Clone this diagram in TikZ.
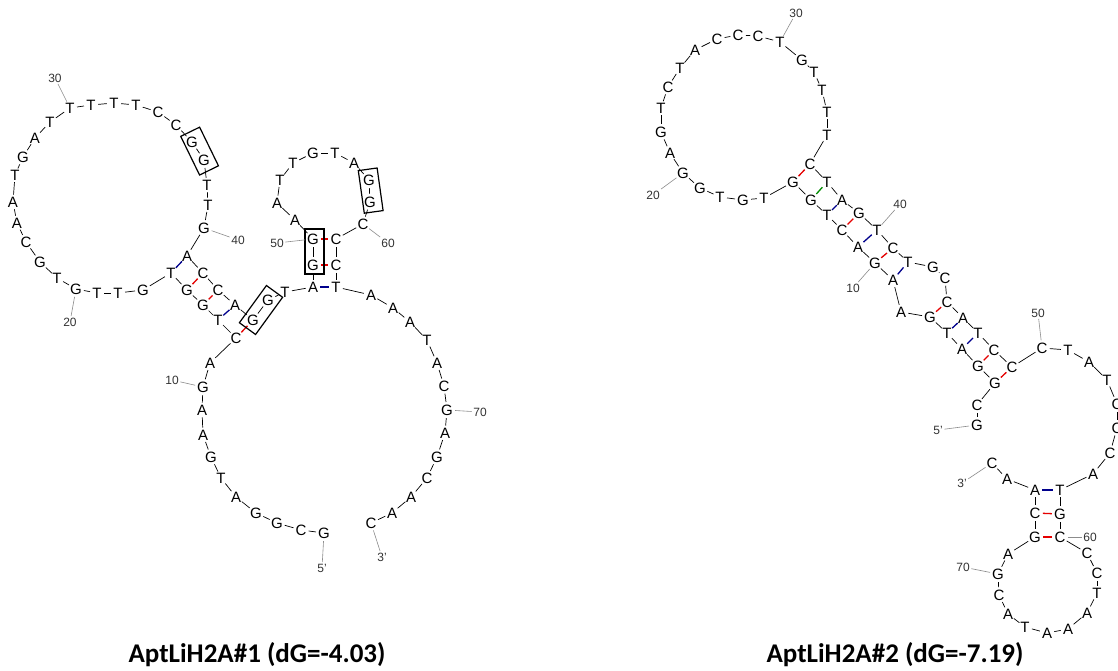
\documentclass[tikz,border=0pt]{standalone}
\usepackage{fontspec}
\setmainfont{Liberation Sans}
\newfontfamily\titlefont{Carlito}
\begin{document}
\begin{tikzpicture}[x=1pt,y=-1pt,
  nt/.style={circle,inner sep=0pt,minimum size=13pt,font=\fontsize{15}{15}\selectfont},
  bb/.style={line width=0.7pt,black},
  pGC/.style={line width=1.3pt,red!90!black},
  pAT/.style={line width=1.3pt,blue!55!black},
  pGT/.style={line width=1.3pt,green!55!black},
  numtick/.style={line width=0.6pt,black!45},
  numlbl/.style={font=\fontsize{12}{12}\selectfont,text=black!80,inner sep=1.5pt},
  gbox/.style={draw,line width=1.2pt,inner sep=0pt},
  ttl/.style={font=\titlefont\bfseries\fontsize{27}{27}\selectfont}]
\fill[white] (0,0) rectangle (1118,671);
\useasboundingbox (0,0) rectangle (1118,671);
\begin{scope}
\clip (0,0) rectangle (1118,671);

% ---------------- AptLiH2A#1 ----------------
\foreach \n/\b/\x/\y in {
 1/G/324/533, 2/C/301/530, 3/G/277/523, 4/G/256/513, 5/A/236/497,
 6/T/221/478, 7/G/211/457, 8/A/203/435, 9/A/202/410, 10/G/203/387,
 11/A/210/363, 12/C/236/338, 13/T/218/320, 14/G/203/305, 15/G/187/290,
 16/T/171/273, 17/G/143/290, 18/T/118/293, 19/T/97/293, 20/G/76/289,
 21/T/57/278, 22/G/40/262, 23/C/26/242, 24/A/17/223, 25/A/13/202,
 26/T/15/175, 27/G/23/157, 28/A/35/138, 29/T/50/122, 30/T/70/108,
 31/T/91/105, 32/T/114/103, 33/T/136/105, 34/C/158/112, 35/C/176/125,
 36/G/192/142, 37/G/204/160, 38/T/207/185, 39/T/208/205, 40/G/204/228,
 41/A/187/256, 42/C/203/273, 43/C/218/290, 44/A/235/305, 45/G/253/320,
 46/G/268/300, 47/T/285/292, 48/A/313/287, 49/G/313/265, 50/G/313/239,
 51/A/295/220, 52/A/277/203, 53/T/280/180, 54/T/293/163, 55/G/313/153,
 56/T/335/153, 57/A/354/163, 58/G/369/180, 59/G/370/202, 60/C/363/224,
 61/C/336/239, 62/C/336/265, 63/T/336/287, 64/A/371/295, 65/A/393/308,
 66/A/410/322, 67/T/427/340, 68/A/437/363, 69/C/444/386, 70/G/447/410,
 71/A/445/433, 72/G/437/457, 73/C/427/478, 74/A/411/497, 75/A/392/513,
 76/C/371/523}
 \node[nt] (L\n) at (\x,\y) {\b};

\foreach \i in {1,...,75}{\pgfmathtruncatemacro\j{\i+1}\draw[bb] (L\i) -- (L\j);}

\foreach \a/\b/\s in {12/45/pGC, 13/44/pAT, 14/43/pGC, 15/42/pGC, 16/41/pAT,
  48/63/pAT, 49/62/pGC, 50/61/pGC}
 \draw[\s] (L\a) -- (L\b);

% highlighted G pairs
\node[gbox,minimum width=43pt,minimum height=21pt,rotate=-64] (bxA) at (199.6,151.1) {};
\node[gbox,minimum width=46pt,minimum height=20pt,rotate=54] (bxB) at (261,310) {};
\node[gbox,minimum width=19pt,minimum height=45pt] (bxC) at (314.5,251.5) {};
\node[gbox,minimum width=19pt,minimum height=43pt,rotate=8] (bxD) at (370.7,190.6) {};

% position labels
\foreach \k/\x/\y/\t in {1/322/568/5', 76/382/557/3', 10/172/380/10, 20/70/322/20,
  30/55/78/30, 40/238/240/40, 50/277/243/50, 60/388/243/60, 70/480/412/70}{
 \node[numlbl] (LL\k) at (\x,\y) {\t};
 \draw[numtick] (L\k) -- (LL\k);
}

% ---------------- AptLiH2A#2 ----------------
\foreach \n/\b/\x/\y in {
 1/G/977/425, 2/C/977/405, 3/G/995/383, 4/G/978/366, 5/A/962/349,
 6/T/947/333, 7/G/930/317, 8/A/901/312, 9/A/893/280, 10/G/875/263,
 11/A/858/247, 12/C/842/230, 13/T/827/215, 14/G/811/200, 15/G/793/182,
 16/T/764/198, 17/G/743/200, 18/T/720/197, 19/G/700/188, 20/G/683/173,
 21/A/670/153, 22/G/661/132, 23/T/661/108, 24/C/668/87, 25/T/680/68,
 26/A/695/50, 27/C/717/39, 28/C/738/35, 29/C/758/36, 30/T/780/42,
 31/G/802/60, 32/T/814/72, 33/T/822/90, 34/T/827/112, 35/T/827/135,
 36/C/810/164, 37/T/827/182, 38/A/842/200, 39/G/859/213, 40/T/877/230,
 41/C/893/248, 42/T/908/262, 43/G/933/267, 44/C/945/278, 45/C/947/302,
 46/A/963/318, 47/T/978/333, 48/C/994/350, 49/C/1012/367, 50/C/1042/348,
 51/T/1068/350, 52/A/1089/362, 53/T/1107/380, 54/C/1117/404, 55/C/1117/428,
 56/C/1110/453, 57/A/1093/474, 58/T/1060/490, 59/G/1060/514, 60/C/1060/537,
 61/C/1087/553, 62/C/1097/573, 63/T/1097/593, 64/A/1087/613, 65/A/1068/629,
 66/A/1047/633, 67/T/1025/627, 68/A/1008/614, 69/C/999/595, 70/G/998/574,
 71/A/1008/554, 72/G/1035/537, 73/C/1035/513, 74/A/1035/490, 75/A/1007/479,
 76/C/992/463}
 \node[nt] (R\n) at (\x,\y) {\b};

\foreach \i in {1,...,75}{\pgfmathtruncatemacro\j{\i+1}\draw[bb] (R\i) -- (R\j);}

\foreach \a/\b/\s in {15/36/pGC, 14/37/pGT, 13/38/pAT, 12/39/pGC, 11/40/pAT,
  10/41/pGC, 9/42/pAT, 7/45/pGC, 6/46/pAT, 5/47/pAT, 4/48/pGC, 3/49/pGC,
  58/74/pAT, 59/73/pGC, 60/72/pGC}
 \draw[\s] (R\a) -- (R\b);

\foreach \k/\x/\y/\t in {1/938/430/5', 76/962/483/3', 10/853/288/10, 20/653/195/20,
  30/796/13/30, 40/900/204/40, 50/1038/313/50, 60/1090/537/60, 70/963/567/70}{
 \node[numlbl] (RL\k) at (\x,\y) {\t};
 \draw[numtick] (R\k) -- (RL\k);
}
\end{scope}

% titles
\node[ttl] (titleA) at (257,655) {AptLiH2A\#1 (dG=-4.03)};
\node[ttl] (titleB) at (895,655) {AptLiH2A\#2 (dG=-7.19)};
\end{tikzpicture}
\end{document}
